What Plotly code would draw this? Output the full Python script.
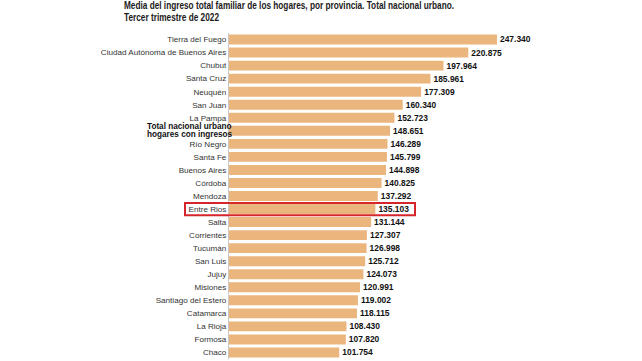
import plotly.graph_objects as go

provincias = [
    "Tierra del Fuego", "Ciudad Autónoma de Buenos Aires", "Chubut", "Santa Cruz",
    "Neuquén", "San Juan", "La Pampa", "Total nacional urbano hogares con ingresos",
    "Río Negro", "Santa Fe", "Buenos Aires", "Córdoba", "Mendoza", "Entre Rios",
    "Salta", "Corrientes", "Tucumán", "San Luis", "Jujuy", "Misiones",
    "Santiago del Estero", "Catamarca", "La Rioja", "Formosa", "Chaco",
]
valores = [
    247340, 220875, 197964, 185961, 177309, 160340, 152723, 148651, 146289,
    145799, 144898, 140825, 137292, 135103, 131144, 127307, 126998, 125712,
    124073, 120991, 119002, 118115, 108430, 107820, 101754,
]
total_lineas = ["Total nacional urbano", "hogares con ingresos"]
destacado = "Entre Rios"
titulo = ["Media del ingreso total familiar de los hogares, por provincia. Total nacional urbano.",
          "Tercer trimestre de 2022"]

W, H = 642, 361
ML, MR, MT, MB = 229, 122, 33, 2
PW = W - ML - MR
PH = H - MT - MB
XMAX = 268600

tick_text = ["" if p.startswith("Total") else p for p in provincias]
textos = [f"{v:,}".replace(",", ".") for v in valores]
idx = list(range(len(provincias)))

fig = go.Figure(go.Bar(
    x=valores, y=idx, orientation="h",
    marker=dict(color="#EBB57E", line=dict(width=0)),
    text=textos, textposition="outside", cliponaxis=False,
    textfont=dict(family="Liberation Sans", size=8.5, color="#111111", weight="bold"),
    hoverinfo="skip",
))

fig.update_layout(
    width=W, height=H,
    margin=dict(l=ML, r=MR, t=MT, b=MB, pad=0),
    paper_bgcolor="white", plot_bgcolor="white",
    bargap=0.24, showlegend=False,
)
fig.update_xaxes(range=[0, XMAX], visible=False, showgrid=False, zeroline=False)
fig.update_yaxes(
    tickmode="array", tickvals=idx, ticktext=tick_text, automargin=False,
    range=[len(idx) - 0.5, -0.5], showgrid=False, zeroline=False,
    showline=True, linecolor="#c8c8c8", linewidth=1, ticks="", ticklen=0,
    tickfont=dict(family="Liberation Sans", size=8.1, color="#333333"),
)

def px_to_paper(px):
    return (px - ML) / PW

def py_to_paper(py):
    return 1 - (py - MT) / PH

# Total nacional label (bold, left aligned, two lines)
i_total = next(i for i, p in enumerate(provincias) if p.startswith("Total"))
for linea, dy in zip(total_lineas, [-0.36, 0.27]):
    fig.add_annotation(
        text=linea, xref="paper", yref="y",
        x=px_to_paper(145), y=i_total + dy, xanchor="left", yanchor="middle",
        align="left", showarrow=False,
        font=dict(family="Liberation Sans", size=8.2, color="#111111", weight="bold"),
    )

# Title (two lines, condensed bold look)
for linea, py in zip(titulo, [5.5, 17.5]):
    fig.add_annotation(
        text=linea, xref="paper", yref="paper",
        x=px_to_paper(122), y=py_to_paper(py),
        xanchor="left", yanchor="middle", align="left", showarrow=False,
        font=dict(family="Liberation Sans", size=10, color="#1a1a1a", weight="bold"),
    )

# Highlight box for Entre Rios
i_er = provincias.index(destacado)
fig.add_shape(
    type="rect", xref="paper", yref="y",
    x0=px_to_paper(185), x1=px_to_paper(415),
    y0=i_er - 0.47, y1=i_er + 0.47,
    line=dict(color="#D7262B", width=2), fillcolor="rgba(0,0,0,0)",
)

post = """
document.body.style.margin='0';document.body.style.padding='0';
var widths = {'Media del ingreso': 330, 'Tercer trimestre': 95};
document.querySelectorAll('.annotation-text').forEach(function(t){
  var s = t.textContent;
  Object.keys(widths).forEach(function(k){
    if (s.indexOf(k) === 0) {
      t.setAttribute('textLength', widths[k]);
      t.setAttribute('lengthAdjust', 'spacingAndGlyphs');
    }
  });
});
"""

fig.write_html("out.html", config={"displayModeBar": False}, post_script=post)
